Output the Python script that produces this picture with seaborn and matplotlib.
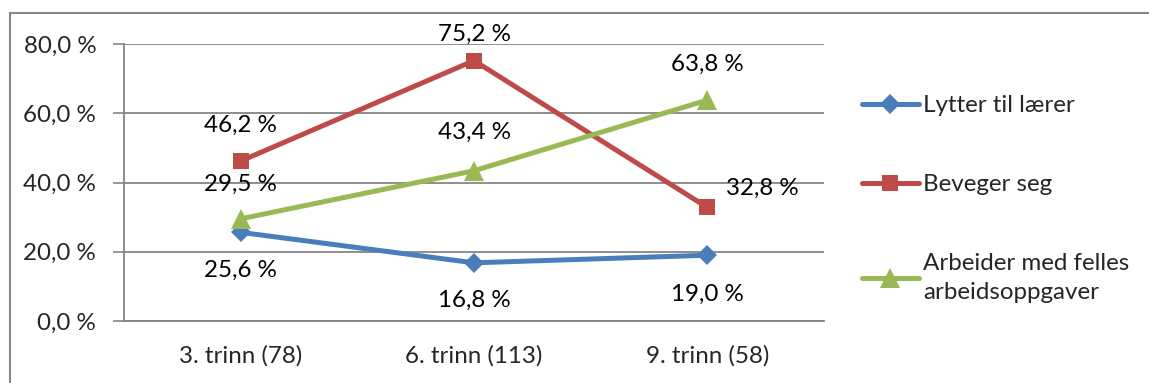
import numpy as np
import pandas as pd
import matplotlib
matplotlib.use("Agg")
import matplotlib.pyplot as plt
from matplotlib.lines import Line2D
from matplotlib.ticker import FuncFormatter, FixedLocator
import seaborn as sns

# data
categories = ["3. trinn (78)", "6. trinn (113)", "9. trinn (58)"]
series_names = ["Lytter til lærer", "Beveger seg", "Arbeider med felles\narbeidsoppgaver"]
lytter = [25.6, 16.8, 19.0]
beveger = [46.2, 75.2, 32.8]
arbeider = [29.5, 43.4, 63.8]
y_ticks = [0, 20, 40, 60, 80]

# style
colors = ["#4A7EBB", "#BE4B48", "#98B954"]
markers = ["D", "s", "^"]
marker_sizes = [10, 12, 14]
grid_col = "#868686"
FS = 17.4

# label offsets in pixels (dx, dy) per series / point
label_offsets = [
    [(0, -38), (0, -38), (0, -39)],
    [(0, 36), (0, 26), (55, 19)],
    [(0, 35), (0, 38), (0, 36)],
]

sns.set_style("white")
plt.rcParams["font.family"] = ["Lato", "DejaVu Sans"]

rows = []
for name, vals in zip(series_names, [lytter, beveger, arbeider]):
    for i, v in enumerate(vals):
        rows.append({"pos": i, "val": v, "serie": name})
df = pd.DataFrame(rows)

fig = plt.figure(figsize=(11.49, 3.83), dpi=100)
ax = fig.add_axes([124 / 1149, 1 - 321 / 383, 700 / 1149, 277 / 383])

sns.lineplot(data=df, x="pos", y="val", hue="serie", style="serie",
             palette=dict(zip(series_names, colors)),
             markers=dict(zip(series_names, markers)), dashes=False,
             linewidth=3.6, markeredgewidth=0, ax=ax, legend=True)

# marker sizes per series
for line, ms in zip(ax.get_lines()[:3], marker_sizes):
    line.set_markersize(ms)

# data labels
for s_idx, (name, vals) in enumerate(zip(series_names, [lytter, beveger, arbeider])):
    for i, v in enumerate(vals):
        dx, dy = label_offsets[s_idx][i]
        ax.annotate(f"{v:.1f} %".replace(".", ","), xy=(i, v), xytext=(dx, dy),
                    textcoords="offset pixels", ha="center", va="center",
                    fontsize=FS, color="black")

ax.set_xlim(-0.5, 2.5)
ax.set_ylim(0, 80)
ax.set_xticks(range(len(categories)))
ax.set_xticklabels(categories, fontsize=FS)
ax.xaxis.set_minor_locator(FixedLocator([-0.5, 0.5, 1.5, 2.5]))
ax.tick_params(axis="x", which="major", length=0, pad=17)
ax.tick_params(axis="x", which="minor", length=8, width=1.2, color=grid_col, direction="out")
ax.set_yticks(y_ticks)
ax.yaxis.set_major_formatter(FuncFormatter(lambda v, p: f"{v:.1f} %".replace(".", ",")))
ax.tick_params(axis="y", length=8, width=1.2, color=grid_col, labelsize=FS, pad=12, left=True)
ax.set_xlabel("")
ax.set_ylabel("")
ax.grid(axis="y", color=grid_col, linewidth=1.3)
ax.set_axisbelow(True)
for side in ["top", "right"]:
    ax.spines[side].set_visible(False)
for side in ["left", "bottom"]:
    ax.spines[side].set_color(grid_col)
    ax.spines[side].set_linewidth(1.3)

# legend
handles, labels = ax.get_legend_handles_labels()
ax.get_legend().remove()
for h, ms in zip(handles, marker_sizes):
    h.set_markersize(ms)
    h.set_linewidth(3.6)
leg = fig.legend(handles, labels, loc="upper left", bbox_to_anchor=(862 / 1149, 1 - 95 / 383),
                 frameon=False, fontsize=FS, handlelength=2.35, handletextpad=0.17,
                 labelspacing=2.4, numpoints=1, borderaxespad=0, borderpad=0)
for t in leg.get_texts():
    t.set_linespacing(1.45)

# outer chart border
fig.add_artist(Line2D([10 / 1149, 1], [1 - 13 / 383, 1 - 13 / 383], color=grid_col, linewidth=1.5))
fig.add_artist(Line2D([10 / 1149, 10 / 1149], [0, 1 - 13 / 383], color=grid_col, linewidth=1.5))

fig.savefig("out.png", dpi=100)
